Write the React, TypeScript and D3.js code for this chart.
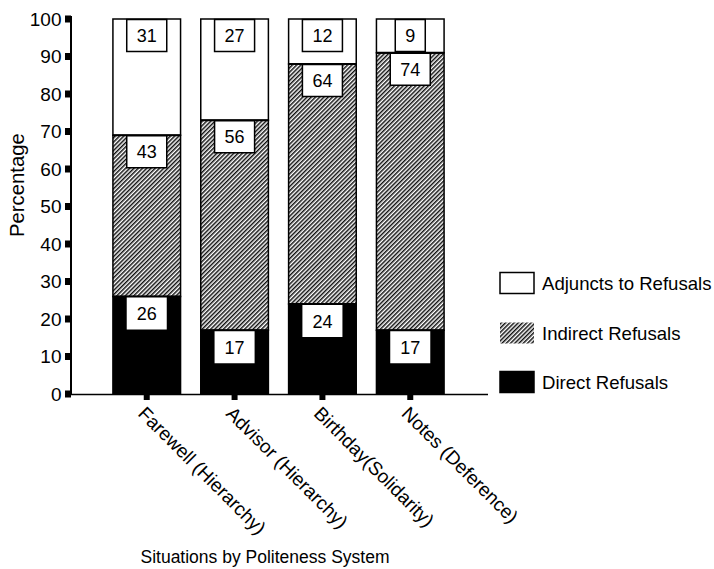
import React from "react";
import * as d3 from "d3";

const categories = ["Farewell (Hierarchy)", "Advisor (Hierarchy)", "Birthday(Solidarity)", "Notes (Deference)"];
const directRefusals = [26, 17, 24, 17];
const indirectRefusals = [43, 56, 64, 74];
const adjunctsToRefusals = [31, 27, 12, 9];
const seriesNames = ["Adjuncts to Refusals", "Indirect Refusals", "Direct Refusals"];
const yTicks = [0, 10, 20, 30, 40, 50, 60, 70, 80, 90, 100];

const W = 714;
const H = 569;
const FONT = "'Liberation Sans', Arial, Helvetica, sans-serif";

export default function App() {
  const y = d3.scaleLinear().domain([0, 100]).range([394, 19]);
  const x = d3.scaleBand<string>().domain(categories).range([69, 488]).paddingInner(0.23).paddingOuter(0.5);
  const bw = x.bandwidth();

  const rows = categories.map((c, i) => ({
    cat: c,
    direct: directRefusals[i],
    indirect: indirectRefusals[i],
    adjunct: adjunctsToRefusals[i],
  }));
  const stack = d3.stack<any>().keys(["direct", "indirect", "adjunct"])(rows);
  const fills: Record<string, string> = { direct: "#000", indirect: "url(#hatch)", adjunct: "#fff" };

  const fs = 18;
  const charW = (t: string) => t.length * fs * 0.556;

  return (
    <svg width={W} height={H} style={{ position: "absolute", left: 0, top: 0, background: "#fff" }} fontFamily={FONT}>
      <defs>
        <pattern id="hatch" patternUnits="userSpaceOnUse" width={3} height={3} patternTransform="rotate(45)">
          <rect width={3} height={3} fill="#fff" />
          <line x1={0.75} y1={0} x2={0.75} y2={3} stroke="#111" strokeWidth={1.5} />
        </pattern>
      </defs>

      {/* bars */}
      {stack.map((layer) =>
        layer.map((d, i) => {
          const x0 = x(categories[i])!;
          const top = y(d[1]);
          const bot = y(d[0]);
          return (
            <rect key={layer.key + i} x={x0} y={top} width={bw} height={bot - top}
              fill={fills[layer.key]} stroke="#000" strokeWidth={1.5} />
          );
        })
      )}
      {stack.slice(0, 2).map((layer) =>
        layer.map((d, i) => (
          <line key={"b" + layer.key + i} x1={x(categories[i])!} x2={x(categories[i])! + bw} y1={y(d[1])} y2={y(d[1])} stroke="#000" strokeWidth={2.2} />
        ))
      )}

      {/* value boxes */}
      {stack.map((layer) =>
        layer.map((d, i) => {
          const v = d[1] - d[0];
          const t = String(v);
          const bwid = charW(t) + 20;
          const cx = x(categories[i])! + bw / 2;
          const top = y(d[1]) + (layer.key === "direct" ? 1 : 0.5);
          const h = Math.min(32, y(d[0]) - y(d[1]) - 1);
          return (
            <g key={"l" + layer.key + i}>
              <rect x={cx - bwid / 2} y={top} width={bwid} height={h} fill="#fff"
                stroke={layer.key === "direct" ? "none" : "#000"} strokeWidth={1.5} />
              <text x={cx} y={top + h / 2 + 6.5} textAnchor="middle" fontSize={fs} fill="#000">{t}</text>
            </g>
          );
        })
      )}

      {/* y axis */}
      <line x1={71} x2={71} y1={y(100) - 3} y2={y(0)} stroke="#000" strokeWidth={2} />
      {yTicks.map((t) => (
        <g key={"yt" + t}>
          <rect x={65} y={y(t) - 3.5} width={6} height={7} fill="#000" />
          <text x={61.5} y={y(t) + 6.8} textAnchor="end" fontSize={19} fill="#000">{t}</text>
        </g>
      ))}
      <text transform={`translate(24, 237) rotate(-90)`} textAnchor="start" fontSize={20.3} fill="#000">Percentage</text>

      {/* x axis */}
      <line x1={69} x2={488} y1={394.5} y2={394.5} stroke="#000" strokeWidth={1.5} />
      {categories.map((c) => {
        const cx = x(c)! + bw / 2;
        return (
          <g key={"xt" + c}>
            <rect x={cx - 3} y={394} width={6} height={6} fill="#000" />
            <text transform={`translate(${cx}, 405) rotate(45)`} fontSize={19} fill="#000" dy="0.72em">{c}</text>
          </g>
        );
      })}
      <text x={265} y={563} textAnchor="middle" fontSize={17.5} fill="#000">Situations by Politeness System</text>

      {/* legend */}
      {seriesNames.map((s, i) => {
        const cy = [283, 333, 382][i];
        const fill = i === 0 ? "#fff" : i === 1 ? "url(#hatch)" : "#000";
        return (
          <g key={"lg" + s}>
            <rect x={500} y={cy - 10.5} width={34} height={21} fill={fill} stroke={i === 1 ? "none" : "#000"} strokeWidth={1.5} />
            <text x={542} y={cy + 7} fontSize={18.6} fill="#000">{s}</text>
          </g>
        );
      })}
    </svg>
  );
}
